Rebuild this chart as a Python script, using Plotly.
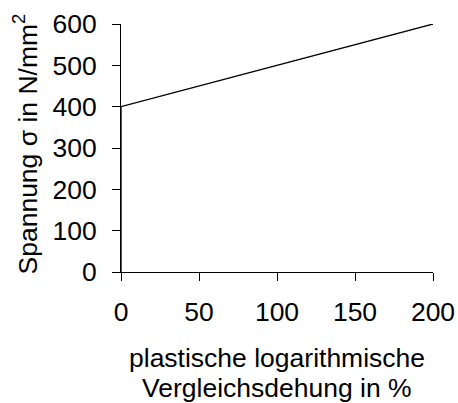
import plotly.graph_objects as go

# Flow curve: plastic equivalent strain (%) vs. stress (N/mm²)
strain_pct = [0, 0, 200]
stress = [0, 400, 600]

x_ticks = [0, 50, 100, 150, 200]
y_ticks = [0, 100, 200, 300, 400, 500, 600]

x_title_lines = ["plastische logarithmische", "Vergleichsdehung in %"]
y_title = "Spannung σ in N/mm<sup>2</sup>"

FONT = "Liberation Sans, Arial, sans-serif"
SIZE = 26.5

fig = go.Figure()
fig.add_trace(go.Scatter(
    x=strain_pct, y=stress, mode="lines",
    line=dict(color="black", width=1.3),
    showlegend=False, cliponaxis=False,
))

fig.update_layout(
    width=458, height=403,
    margin=dict(l=120.5, r=25, t=23.5, b=131),
    paper_bgcolor="white", plot_bgcolor="white",
    font=dict(family=FONT, size=SIZE, color="black"),
)
fig.update_xaxes(
    range=[0, 200], tickvals=x_ticks, ticks="outside", ticklen=8,
    tickcolor="black", showline=True, linecolor="black", linewidth=1,
    showgrid=False, zeroline=False, ticklabelstandoff=8, automargin=False,
)
fig.update_yaxes(
    range=[0, 600], tickvals=y_ticks, ticks="outside", ticklen=8,
    tickcolor="black", showline=True, linecolor="black", linewidth=1,
    showgrid=False, zeroline=False, ticklabelstandoff=10, automargin=False,
)

# x-axis title, two lines with tight leading
for i, line in enumerate(x_title_lines):
    fig.add_annotation(
        text=line, xref="paper", yref="paper", x=0.5, y=0,
        xanchor="center", yanchor="middle", showarrow=False,
        yshift=-86 - 30 * i, font=dict(family=FONT, size=SIZE),
    )

# y-axis title, rotated
fig.add_annotation(
    text=y_title, xref="paper", yref="paper", x=0, y=0.5,
    xanchor="center", yanchor="middle", textangle=-90, showarrow=False,
    xshift=-96, yshift=3.5, font=dict(family=FONT, size=SIZE),
)

fig.write_html("out.html")
